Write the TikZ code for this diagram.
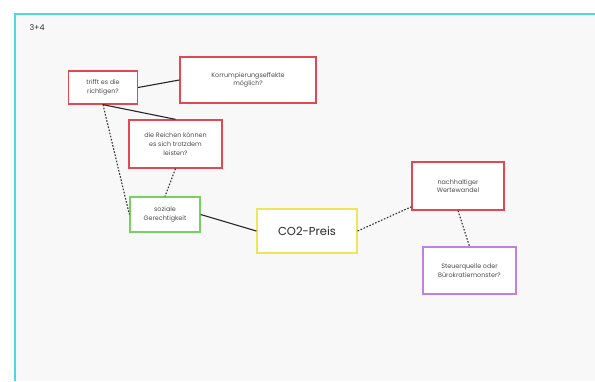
\documentclass[tikz,border=0pt]{standalone}
\usepackage{fontspec}
\setmainfont{Poppins}
\definecolor{boardcyan}{RGB}{80,214,222}
\definecolor{boardgray}{RGB}{248,248,248}
\definecolor{notered}{RGB}{226,72,82}
\definecolor{notegreen}{RGB}{120,208,100}
\definecolor{noteyellow}{RGB}{240,228,90}
\definecolor{notepurple}{RGB}{192,130,220}
\begin{document}
\begin{tikzpicture}[x=1pt,y=-1pt,
  box/.style={draw,line width=1.3pt,fill=white,align=center,inner sep=2pt,
    font=\fontsize{6.4}{8.6}\selectfont,text=black!70},
  redbox/.style={box,draw=notered},
  solidlink/.style={draw=black!85,line width=1.1pt},
  dotlink/.style={draw=black!80,line width=1.1pt,dash pattern=on 1.6pt off 1.6pt}]
  % page and board
  \fill[white] (0,0) rectangle (595,381);
  \useasboundingbox (0,0) rectangle (595,381);
  \fill[boardgray] (15,14) rectangle (595,381);
  \draw[boardcyan,line width=1.8pt] (15,381) -- (15,14) -- (595,14);
  \node[anchor=west,font=\fontsize{8}{9}\selectfont,text=black!80] (title) at (26,28) {3+4};
  % nodes
  \node[redbox,minimum width=69pt,minimum height=33pt] (trifft) at (103,87.5) {trifft es die\\richtigen?};
  \node[redbox,minimum width=136pt,minimum height=46pt] (korr) at (248,80) {Korrumpierungseffekte\\möglich?};
  \node[redbox,minimum width=93pt,minimum height=48pt] (reichen) at (175.5,144) {die Reichen können\\es sich trotzdem\\leisten?};
  \node[box,draw=notegreen,minimum width=70pt,minimum height=35pt] (sozial) at (165,214.5) {soziale\\Gerechtigkeit};
  \node[box,draw=noteyellow,minimum width=100pt,minimum height=44pt,
    font=\fontsize{11.5}{13}\selectfont,text=black!85] (co2) at (307,231) {CO2-Preis};
  \node[redbox,minimum width=92pt,minimum height=48pt] (wert) at (458,186) {nachhaltiger\\Wertewandel};
  \node[box,draw=notepurple,minimum width=93pt,minimum height=47pt] (steuer) at (469.5,270.5) {Steuerquelle oder\\Bürokratiemonster?};
  % connectors
  \draw[solidlink] (trifft.east) -- (korr.west);
  \draw[solidlink] (trifft.south) -- (reichen.north);
  \draw[dotlink] (trifft.south) -- (sozial.west);
  \draw[dotlink] (reichen.south) -- (sozial.north);
  \draw[solidlink] (sozial.east) -- (co2.west);
  \draw[dotlink] (co2.east) -- (wert.204);
  \draw[dotlink] (wert.south) -- (steuer.north);
\end{tikzpicture}
\end{document}
